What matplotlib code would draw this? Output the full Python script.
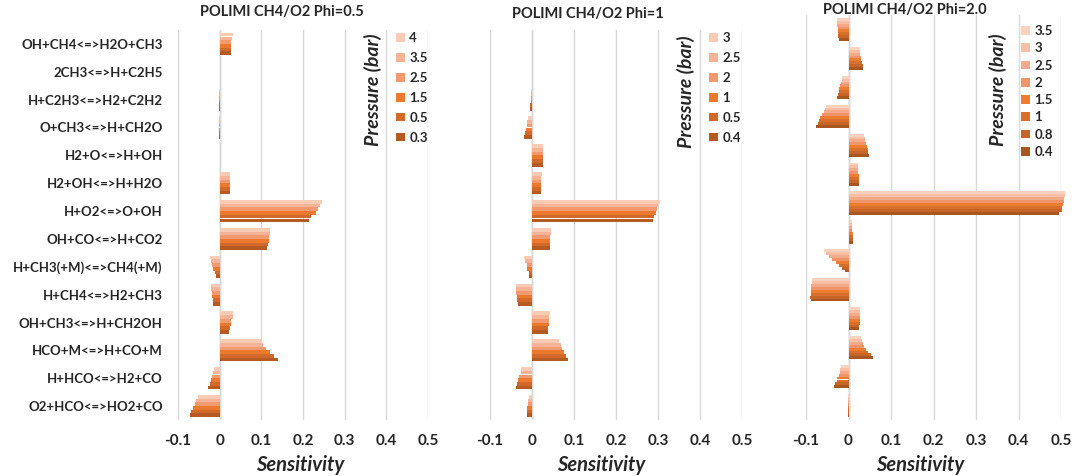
import matplotlib
matplotlib.use("Agg")
import matplotlib.pyplot as plt
from matplotlib.patches import Patch

reactions = ["OH+CH4<=>H2O+CH3", "2CH3<=>H+C2H5", "H+C2H3<=>H2+C2H2",
             "O+CH3<=>H+CH2O", "H2+O<=>H+OH", "H2+OH<=>H+H2O", "H+O2<=>O+OH",
             "OH+CO<=>H+CO2", "H+CH3(+M)<=>CH4(+M)", "H+CH4<=>H2+CH3",
             "OH+CH3<=>H+CH2OH", "HCO+M<=>H+CO+M", "H+HCO<=>H2+CO",
             "O2+HCO<=>HO2+CO"]

xticks = [-0.1, 0, 0.1, 0.2, 0.3, 0.4, 0.5]
xtick_labels = ["-0.1", "0", "0.1", "0.2", "0.3", "0.4", "0.5"]

# Phi = 0.5 ; columns = pressures
p1_press = ["4", "3.5", "2.5", "1.5", "0.5", "0.3"]
p1_vals = [
    [0.031, 0.030, 0.028, 0.027, 0.027, 0.027],
    [0.0005, 0.0005, 0.0005, 0.0005, 0.0005, 0.0005],
    [-0.001, -0.001, -0.002, -0.002, -0.002, -0.002],
    [-0.001, -0.001, -0.001, -0.002, -0.002, -0.002],
    [0.0, 0.0, 0.0, 0.0, 0.0, 0.0],
    [0.025, 0.024, 0.024, 0.024, 0.024, 0.024],
    [0.245, 0.241, 0.236, 0.231, 0.219, 0.214],
    [0.121, 0.120, 0.119, 0.118, 0.116, 0.113],
    [-0.023, -0.021, -0.018, -0.015, -0.012, -0.009],
    [-0.020, -0.020, -0.019, -0.018, -0.017, -0.016],
    [0.032, 0.031, 0.028, 0.026, 0.024, 0.022],
    [0.098, 0.104, 0.110, 0.120, 0.131, 0.140],
    [-0.014, -0.016, -0.018, -0.021, -0.024, -0.027],
    [-0.052, -0.056, -0.060, -0.064, -0.068, -0.071],
]

# Phi = 1
p2_press = ["3", "2.5", "2", "1", "0.5", "0.4"]
p2_vals = [
    [0.001, 0.001, 0.001, 0.001, 0.001, 0.001],
    [0.0005, 0.0005, 0.0005, 0.0005, 0.0005, 0.0005],
    [-0.002, -0.002, -0.003, -0.003, -0.004, -0.004],
    [-0.010, -0.012, -0.013, -0.015, -0.017, -0.018],
    [0.027, 0.026, 0.025, 0.025, 0.025, 0.025],
    [0.023, 0.022, 0.022, 0.022, 0.022, 0.022],
    [0.304, 0.301, 0.298, 0.295, 0.291, 0.289],
    [0.045, 0.045, 0.044, 0.044, 0.044, 0.044],
    [-0.018, -0.016, -0.013, -0.011, -0.008, -0.006],
    [-0.037, -0.038, -0.037, -0.036, -0.035, -0.034],
    [0.042, 0.041, 0.040, 0.040, 0.039, 0.038],
    [0.065, 0.068, 0.072, 0.077, 0.081, 0.086],
    [-0.026, -0.027, -0.030, -0.033, -0.036, -0.037],
    [-0.008, -0.009, -0.010, -0.011, -0.012, -0.013],
]

# Phi = 2.0
p3_press = ["3.5", "3", "2.5", "2", "1.5", "1", "0.8", "0.4"]
p3_vals = [
    [-0.027, -0.026, -0.026, -0.025, -0.025, -0.024, -0.024, -0.023],
    [0.027, 0.027, 0.028, 0.029, 0.030, 0.031, 0.033, 0.034],
    [-0.015, -0.016, -0.018, -0.020, -0.022, -0.023, -0.025, -0.027],
    [-0.054, -0.055, -0.058, -0.062, -0.066, -0.069, -0.072, -0.076],
    [0.037, 0.038, 0.039, 0.041, 0.043, 0.045, 0.047, 0.049],
    [0.022, 0.022, 0.023, 0.023, 0.024, 0.024, 0.025, 0.025],
    [0.510, 0.510, 0.508, 0.506, 0.505, 0.503, 0.502, 0.496],
    [0.008, 0.009, 0.009, 0.009, 0.010, 0.010, 0.010, 0.010],
    [-0.057, -0.052, -0.045, -0.038, -0.030, -0.022, -0.015, -0.008],
    [-0.086, -0.087, -0.088, -0.088, -0.089, -0.089, -0.090, -0.089],
    [0.027, 0.027, 0.027, 0.026, 0.026, 0.026, 0.025, 0.025],
    [0.030, 0.031, 0.033, 0.036, 0.040, 0.045, 0.052, 0.058],
    [-0.018, -0.019, -0.021, -0.023, -0.026, -0.028, -0.031, -0.033],
    [-0.002, -0.002, -0.002, -0.002, -0.002, -0.002, -0.002, -0.002],
]

colors6 = ["#F8CBB4", "#F5B498", "#F19A6F", "#EB7A30", "#D2692A", "#B65A23"]
colors8 = ["#F9D3C0", "#F7BFA6", "#F4AA88", "#F0956A", "#ED7D31", "#D8702B",
           "#C56527", "#A95720"]

FONT = "Lato"
W, H = 1075, 476
fig = plt.figure(figsize=(W / 100, H / 100), dpi=100)


def add_axes(x0, x1, ytop, ybot):
    return fig.add_axes([x0 / W, 1 - ybot / H, (x1 - x0) / W, (ybot - ytop) / H])


panels = [
    dict(box=(178, 428, 30, 420), press=p1_press, vals=p1_vals, colors=colors6,
         title="POLIMI CH4/O2 Phi=0.5", title_xy=(282, 12),
         plabel_xy=(373, 90), leg_xy=(396, 32), leg_sp=0.6, ylabels=True,
         xlabel_x=300),
    dict(box=(490, 742, 30, 420), press=p2_press, vals=p2_vals, colors=colors6,
         title="POLIMI CH4/O2 Phi=1", title_xy=(588, 14),
         plabel_xy=(686, 92), leg_xy=(709, 32), leg_sp=0.6, ylabels=False,
         xlabel_x=601),
    dict(box=(806, 1061, 15, 420), press=p3_press, vals=p3_vals, colors=colors8,
         title="POLIMI CH4/O2 Phi=2.0", title_xy=(905, 10),
         plabel_xy=(998, 90), leg_xy=(1021, 25), leg_sp=0.4, ylabels=False,
         xlabel_x=920),
]

n_cat = len(reactions)
group_w = 0.8

for p in panels:
    ax = add_axes(*p["box"])
    ns = len(p["press"])
    bh = group_w / ns
    for j in range(ns):
        ys = [i - group_w / 2 + (j + 0.5) * bh for i in range(n_cat)]
        xs = [row[j] for row in p["vals"]]
        ax.barh(ys, xs, height=bh, color=p["colors"][j], linewidth=0,
                zorder=3, clip_on=False)
    ax.set_ylim(n_cat - 0.5, -0.5)
    ax.set_xlim(-0.1, 0.5)
    ax.set_xticks(xticks)
    ax.set_xticklabels(xtick_labels, fontfamily=FONT, fontweight="bold",
                       fontsize=11, color="#262626")
    ax.tick_params(axis="x", length=0, pad=10)
    ax.xaxis.grid(True, color="#D9D9D9", linewidth=1.0, zorder=0)
    ax.axvline(0, color="#BFBFBF", linewidth=1.0, zorder=1)
    if p["ylabels"]:
        ax.set_yticks(range(n_cat))
        ax.set_yticklabels(reactions, fontfamily=FONT, fontweight="bold",
                           fontsize=9.5, color="#262626")
        ax.tick_params(axis="y", length=0, pad=11)
    else:
        ax.set_yticks([])
    for s in ax.spines.values():
        s.set_visible(False)
    ax.set_facecolor("none")

    tx, ty = p["title_xy"]
    fig.text(tx / W, 1 - ty / H, p["title"], ha="center", va="center",
             fontfamily=FONT, fontweight="bold", fontsize=10.5, color="#262626")
    fig.text(p["xlabel_x"] / W, 1 - 465 / H, "Sensitivity", ha="center",
             va="center", fontfamily=FONT, fontweight="bold", style="italic",
             fontsize=14.5, color="#262626")
    px, py = p["plabel_xy"]
    fig.text(px / W, 1 - py / H, "Pressure (bar)", ha="center", va="center",
             rotation=90, fontfamily=FONT, fontweight="bold", style="italic",
             fontsize=14, color="#262626")
    handles = [Patch(facecolor=c, edgecolor="none") for c in p["colors"][:ns]]
    lx, ly = p["leg_xy"]
    fig.legend(handles, p["press"], loc="upper left",
               bbox_to_anchor=(lx / W, 1 - ly / H), frameon=False,
               handlelength=0.65, handleheight=0.65, handletextpad=0.35,
               labelspacing=p["leg_sp"], borderpad=0, borderaxespad=0,
               prop=dict(family=FONT, weight="bold", size=9.5),
               labelcolor="#262626")

fig.savefig("out.png", dpi=100, facecolor="white")
